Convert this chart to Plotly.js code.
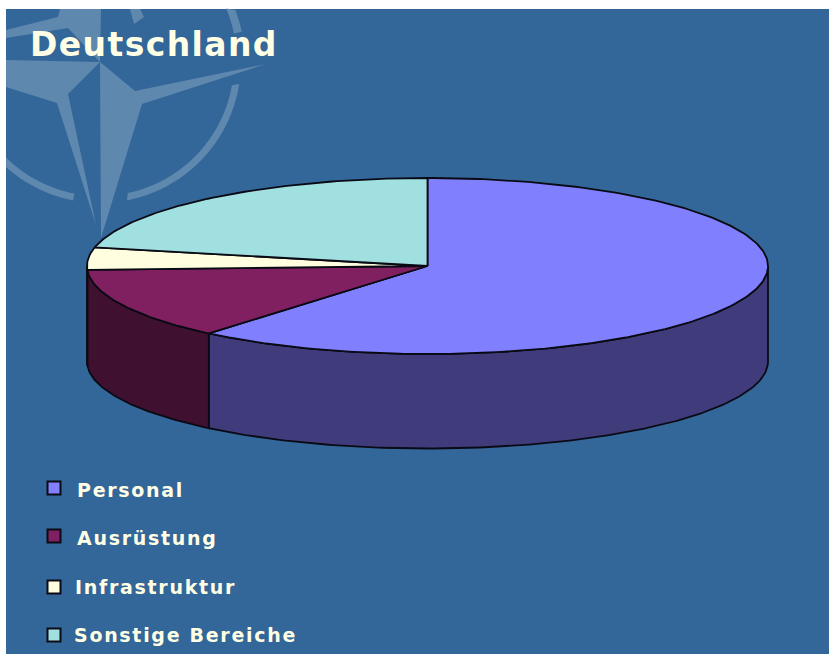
<!DOCTYPE html>
<html>
<head>
<meta charset="utf-8">
<script src="https://cdn.plot.ly/plotly-3.0.1.min.js"></script>
<style>
html,body{margin:0;padding:0;background:#fff;overflow:hidden}
#c{width:829px;height:654px}
.gtitle{letter-spacing:1.4px}
.annotation-text{letter-spacing:1.7px}
</style>
</head>
<body>
<div id="c"></div>
<script>
const chartTitle = "Deutschland";
const categories = ["Personal", "Ausrüstung", "Infrastruktur", "Sonstige Bereiche"];
const shares = [61.1, 13.2, 4.1, 21.6];
const topColors = ["#8080FF", "#802060", "#FFFFE0", "#A0E0E0"];
const sideColors = ["#403C7C", "#401030", "#807F70", "#507070"];

// pie geometry on the page
const cx = 427.5, cy = 266, rx = 340.5, ry = 88, cyBottom = 361.5, ryBottom = 87;
const ink = "#0a0a14", cream = "#FFFFE6", blue = "#336699", star = "#5F88AE";

function topPt(t){ return [cx + rx*Math.sin(t), cy - ry*Math.cos(t)]; }
function botPt(t){ return [cx + rx*Math.sin(t), cyBottom - ryBottom*Math.cos(t)]; }
function sweep(a, b){ const n = Math.max(2, Math.ceil((b-a)/0.015)), o = []; for(let i=0;i<=n;i++) o.push(a+(b-a)*i/n); return o; }

const traces = [];
let acc = 0;
const spans = shares.map(s => { const a = acc; acc += s; return [a/100*2*Math.PI, acc/100*2*Math.PI]; });

// rim of the disc: only the front half (right through bottom to left) is visible
spans.forEach((sp, i) => {
  const a = Math.max(sp[0], Math.PI/2), b = Math.min(sp[1], 3*Math.PI/2);
  if (b <= a) return;
  const ts = sweep(a, b);
  const pts = ts.map(topPt).concat(ts.slice().reverse().map(botPt));
  pts.push(pts[0]);
  traces.push({type:"scatter", mode:"lines", fill:"toself", fillcolor:sideColors[i],
    x:pts.map(p=>p[0]), y:pts.map(p=>p[1]), line:{color:ink,width:1.8},
    name:categories[i], hoverinfo:"name", showlegend:false});
});

// top faces
spans.forEach((sp, i) => {
  const pts = [[cx,cy]].concat(sweep(sp[0], sp[1]).map(topPt));
  pts.push([cx,cy]);
  traces.push({type:"scatter", mode:"lines", fill:"toself", fillcolor:topColors[i],
    x:pts.map(p=>p[0]), y:pts.map(p=>p[1]), line:{color:ink,width:1.8},
    name:categories[i], text:categories[i]+": "+shares[i]+" %", hoverinfo:"text", showlegend:false});
});

// legend keys and labels
const legendX = 54, legendY = [488, 536, 587, 635], labelX = [75, 75, 73, 72], labelY = [490, 538, 587, 635];
traces.push({type:"scatter", mode:"markers", x:legendY.map(()=>legendX), y:legendY,
  marker:{symbol:"square", size:13, color:topColors, line:{color:ink,width:2}},
  text:categories, hoverinfo:"text", showlegend:false});

// emblem in the page background
const ec = [100, 62];
function poly(pts){ return "M" + pts.map(p=>p[0]+","+p[1]).join(" L") + " Z"; }
function ring(a0i, a1i, a0o, a1o, ri, ro){
  const r = d => d*Math.PI/180, o = [];
  for(let k=0;k<=24;k++){ const a=r(a0o+(a1o-a0o)*k/24); o.push([ec[0]+ro*Math.cos(a), ec[1]+ro*Math.sin(a)]); }
  for(let k=24;k>=0;k--){ const a=r(a0i+(a1i-a0i)*k/24); o.push([ec[0]+ri*Math.cos(a), ec[1]+ri*Math.sin(a)]); }
  return poly(o);
}
const emblem = [
  poly([[100,62],[135,91],[266,64],[142,104],[101,238]]),
  poly([[6,60],[100,62],[68,94],[96,225],[57,103],[6,87]]),
  poly([[60,9],[58,17],[6,30],[6,38],[68,28],[100,62],[101,9]]),
  poly([[130,9],[134,24],[144,17],[140,9]]),
  ring(10, 78, 9, 79, 134, 141),
  ring(101, 134.5, 101, 131.8, 134, 141),
  ring(-23, -12, -21, -12, 137, 145)
];
const shapes = [{type:"rect", xref:"x", yref:"y", x0:6, x1:829, y0:9, y1:654, fillcolor:blue, line:{width:0}, layer:"below"}]
  .concat(emblem.map(p => ({type:"path", xref:"x", yref:"y", path:p, fillcolor:star, line:{width:0}, layer:"below"})));

const annotations = categories.map((c, i) => ({
  xref:"x", yref:"y", x:labelX[i], y:labelY[i], xanchor:"left", yanchor:"middle",
  text:c, showarrow:false, font:{family:"DejaVu Sans", size:19, color:cream, weight:700}
}));

const layout = {
  width:829, height:654, margin:{l:0,r:0,t:0,b:0}, paper_bgcolor:"#fff", plot_bgcolor:"rgba(0,0,0,0)",
  title:{text:"<b>"+chartTitle+"</b>", x:30/829, xanchor:"left", y:1-44/654, yanchor:"middle", xref:"paper", yref:"paper",
    font:{family:"DejaVu Sans", size:33, color:cream}},
  xaxis:{range:[0,829], visible:false, fixedrange:true},
  yaxis:{range:[654,0], visible:false, fixedrange:true},
  shapes, annotations, showlegend:false, hovermode:"closest"
};
Plotly.newPlot("c", traces, layout, {displayModeBar:false, responsive:false});
</script>
</body>
</html>
